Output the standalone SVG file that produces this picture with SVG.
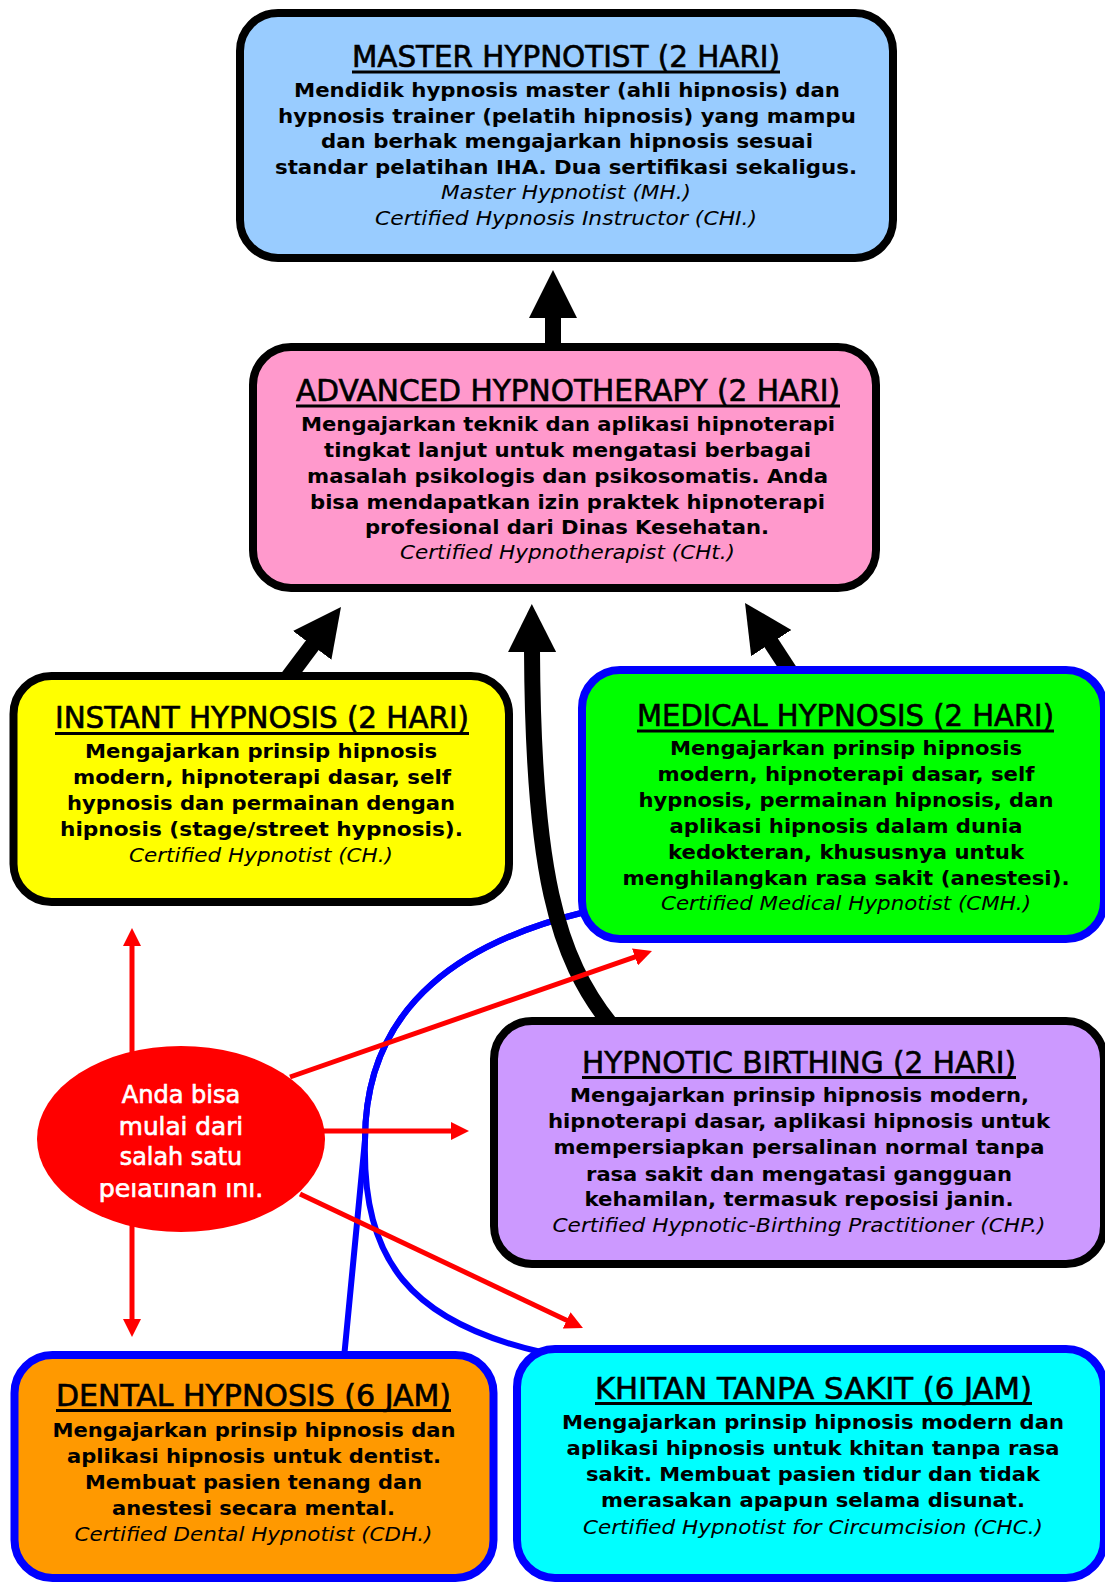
<svg xmlns="http://www.w3.org/2000/svg" width="1105" height="1583" viewBox="0 0 1105 1583">
<defs>
<style>
.box{stroke-width:8}
.bk{stroke:#000000}
.bl{stroke:#0000FF}
.t{font-family:"DejaVu Sans Condensed","DejaVu Sans",sans-serif;font-size:31px;fill:#000;stroke:#000;stroke-width:0.6px;text-anchor:middle}
.b{font-family:"DejaVu Sans","Liberation Sans",sans-serif;font-size:19px;font-weight:bold;fill:#000;text-anchor:middle}
.i{font-family:"DejaVu Sans","Liberation Sans",sans-serif;font-size:20px;font-style:italic;fill:#000;text-anchor:middle}
.u{stroke:#000;stroke-width:3}
.w{font-family:"DejaVu Sans Condensed","DejaVu Sans",sans-serif;font-size:24px;fill:#FFFFFF;stroke:#FFFFFF;stroke-width:0.6px;text-anchor:middle}
.blk{fill:none;stroke:#000;stroke-width:16}
.red{fill:none;stroke:#FF0000;stroke-width:5}
.blue{fill:none;stroke:#0000FF;stroke-width:6}
</style>
<marker id="hb" markerUnits="userSpaceOnUse" markerWidth="48" markerHeight="48" refX="2" refY="24" orient="auto" viewBox="0 0 48 48"><path d="M0,0 L48,24 L0,48 Z" fill="#000"/></marker>
<marker id="hr" markerUnits="userSpaceOnUse" markerWidth="18" markerHeight="18" refX="1" refY="9" orient="auto" viewBox="0 0 18 18"><path d="M0,0 L18,9 L0,18 Z" fill="#FF0000"/></marker>
<clipPath id="cl"><rect x="0" y="1183" width="400" height="60"/></clipPath>
</defs>
<rect x="0" y="0" width="1105" height="1583" fill="#FFFFFF"/>

<g id="connectors">
<path class="blue" d="M 585 912 C 470 940 365 1000 365 1140 C 362 1260 410 1322 541 1352"/>
<path class="blue" d="M 585 912 C 470 940 365 1000 365 1140 L 344 1358"/>
<line class="blk" x1="553" y1="352" x2="553" y2="316" marker-end="url(#hb)"/>
<line class="blk" x1="288.2" y1="677.4" x2="313.4" y2="643.8" marker-end="url(#hb)"/>
<line class="blk" x1="793.2" y1="676.6" x2="770.2" y2="641.4" marker-end="url(#hb)"/>
<path class="blk" d="M 612 1026 C 556 957 533 870 532 650" marker-end="url(#hb)"/>
<line class="red" x1="132" y1="1060" x2="132" y2="945" marker-end="url(#hr)"/>
<line class="red" x1="132" y1="1220" x2="132" y2="1320" marker-end="url(#hr)"/>
<line class="red" x1="290" y1="1077" x2="635.9" y2="956.6" marker-end="url(#hr)"/>
<line class="red" x1="320" y1="1131" x2="452" y2="1131" marker-end="url(#hr)"/>
<line class="red" x1="300" y1="1194" x2="567.6" y2="1320.7" marker-end="url(#hr)"/>
</g>

<g id="master">
<rect class="box bk" x="240" y="13" width="653" height="245" rx="38" fill="#99CCFF"/>
<text class="t" x="566" y="67" textLength="428" lengthAdjust="spacingAndGlyphs">MASTER HYPNOTIST (2 HARI)</text>
<line class="u" x1="352" y1="72" x2="780" y2="72"/>
<text class="b" x="567" y="97" textLength="546" lengthAdjust="spacingAndGlyphs">Mendidik hypnosis master (ahli hipnosis) dan</text>
<text class="b" x="567" y="122.5" textLength="578" lengthAdjust="spacingAndGlyphs">hypnosis trainer (pelatih hipnosis) yang mampu</text>
<text class="b" x="567" y="148" textLength="492" lengthAdjust="spacingAndGlyphs">dan berhak mengajarkan hipnosis sesuai</text>
<text class="b" x="566" y="173.5" textLength="582" lengthAdjust="spacingAndGlyphs">standar pelatihan IHA. Dua sertifikasi sekaligus.</text>
<text class="i" x="566" y="199" textLength="250" lengthAdjust="spacingAndGlyphs">Master Hypnotist (MH.)</text>
<text class="i" x="566" y="224.5" textLength="382" lengthAdjust="spacingAndGlyphs">Certified Hypnosis Instructor (CHI.)</text>
</g>

<g id="advanced">
<rect class="box bk" x="253" y="347" width="623" height="241" rx="38" fill="#FF99CC"/>
<text class="t" x="568" y="401" textLength="544" lengthAdjust="spacingAndGlyphs">ADVANCED HYPNOTHERAPY (2 HARI)</text>
<line class="u" x1="296" y1="406" x2="840" y2="406"/>
<text class="b" x="568" y="431" textLength="534" lengthAdjust="spacingAndGlyphs">Mengajarkan teknik dan aplikasi hipnoterapi</text>
<text class="b" x="567.5" y="456.5" textLength="487" lengthAdjust="spacingAndGlyphs">tingkat lanjut untuk mengatasi berbagai</text>
<text class="b" x="567.5" y="482.5" textLength="521" lengthAdjust="spacingAndGlyphs">masalah psikologis dan psikosomatis. Anda</text>
<text class="b" x="567.5" y="508.5" textLength="515" lengthAdjust="spacingAndGlyphs">bisa mendapatkan izin praktek hipnoterapi</text>
<text class="b" x="567" y="534" textLength="404" lengthAdjust="spacingAndGlyphs">profesional dari Dinas Kesehatan.</text>
<text class="i" x="567.5" y="559" textLength="335" lengthAdjust="spacingAndGlyphs">Certified Hypnotherapist (CHt.)</text>
</g>

<g id="instant">
<rect class="box bk" x="13.5" y="676" width="495.5" height="226" rx="38" fill="#FFFF00"/>
<text class="t" x="262" y="728" textLength="414" lengthAdjust="spacingAndGlyphs">INSTANT HYPNOSIS (2 HARI)</text>
<line class="u" x1="55" y1="733.5" x2="469" y2="733.5"/>
<text class="b" x="261" y="757.5" textLength="352" lengthAdjust="spacingAndGlyphs">Mengajarkan prinsip hipnosis</text>
<text class="b" x="262" y="783.5" textLength="378" lengthAdjust="spacingAndGlyphs">modern, hipnoterapi dasar, self</text>
<text class="b" x="261" y="809.5" textLength="388" lengthAdjust="spacingAndGlyphs">hypnosis dan permainan dengan</text>
<text class="b" x="261.5" y="835.5" textLength="403" lengthAdjust="spacingAndGlyphs">hipnosis (stage/street hypnosis).</text>
<text class="i" x="261" y="861.5" textLength="264" lengthAdjust="spacingAndGlyphs">Certified Hypnotist (CH.)</text>
</g>

<g id="medical">
<rect class="box bl" x="582" y="670" width="522" height="269" rx="38" fill="#00FF00"/>
<text class="t" x="845.5" y="726" textLength="417" lengthAdjust="spacingAndGlyphs">MEDICAL HYPNOSIS (2 HARI)</text>
<line class="u" x1="637" y1="731" x2="1054" y2="731"/>
<text class="b" x="846" y="755" textLength="352" lengthAdjust="spacingAndGlyphs">Mengajarkan prinsip hipnosis</text>
<text class="b" x="846" y="781" textLength="377" lengthAdjust="spacingAndGlyphs">modern, hipnoterapi dasar, self</text>
<text class="b" x="846" y="807" textLength="415" lengthAdjust="spacingAndGlyphs">hypnosis, permainan hipnosis, dan</text>
<text class="b" x="846" y="833" textLength="353" lengthAdjust="spacingAndGlyphs">aplikasi hipnosis dalam dunia</text>
<text class="b" x="846" y="859" textLength="356" lengthAdjust="spacingAndGlyphs">kedokteran, khususnya untuk</text>
<text class="b" x="846" y="884.5" textLength="447" lengthAdjust="spacingAndGlyphs">menghilangkan rasa sakit (anestesi).</text>
<text class="i" x="846" y="910" textLength="370" lengthAdjust="spacingAndGlyphs">Certified Medical Hypnotist (CMH.)</text>
</g>

<g id="birthing">
<rect class="box bk" x="494" y="1021" width="610" height="243" rx="38" fill="#CC99FF"/>
<text class="t" x="799" y="1072.5" textLength="434" lengthAdjust="spacingAndGlyphs">HYPNOTIC BIRTHING (2 HARI)</text>
<line class="u" x1="582" y1="1077.5" x2="1016" y2="1077.5"/>
<text class="b" x="799.5" y="1102" textLength="459" lengthAdjust="spacingAndGlyphs">Mengajarkan prinsip hipnosis modern,</text>
<text class="b" x="799" y="1128" textLength="502" lengthAdjust="spacingAndGlyphs">hipnoterapi dasar, aplikasi hipnosis untuk</text>
<text class="b" x="799" y="1154" textLength="491" lengthAdjust="spacingAndGlyphs">mempersiapkan persalinan normal tanpa</text>
<text class="b" x="799" y="1181" textLength="426" lengthAdjust="spacingAndGlyphs">rasa sakit dan mengatasi gangguan</text>
<text class="b" x="799" y="1206" textLength="429" lengthAdjust="spacingAndGlyphs">kehamilan, termasuk reposisi janin.</text>
<text class="i" x="799" y="1232" textLength="493" lengthAdjust="spacingAndGlyphs">Certified Hypnotic-Birthing Practitioner (CHP.)</text>
</g>

<g id="dental">
<rect class="box bl" x="14.5" y="1355" width="479" height="223" rx="38" fill="#FF9900"/>
<text class="t" x="253.5" y="1405.5" textLength="395" lengthAdjust="spacingAndGlyphs">DENTAL HYPNOSIS (6 JAM)</text>
<line class="u" x1="56" y1="1410.5" x2="451" y2="1410.5"/>
<text class="b" x="254" y="1437" textLength="403" lengthAdjust="spacingAndGlyphs">Mengajarkan prinsip hipnosis dan</text>
<text class="b" x="254" y="1463" textLength="374" lengthAdjust="spacingAndGlyphs">aplikasi hipnosis untuk dentist.</text>
<text class="b" x="253.5" y="1489" textLength="337" lengthAdjust="spacingAndGlyphs">Membuat pasien tenang dan</text>
<text class="b" x="253.5" y="1515" textLength="283" lengthAdjust="spacingAndGlyphs">anestesi secara mental.</text>
<text class="i" x="253.5" y="1541" textLength="358" lengthAdjust="spacingAndGlyphs">Certified Dental Hypnotist (CDH.)</text>
</g>

<g id="khitan">
<rect class="box bl" x="517" y="1349" width="587" height="229" rx="38" fill="#00FFFF"/>
<text class="t" x="813.5" y="1398.5" textLength="437" lengthAdjust="spacingAndGlyphs">KHITAN TANPA SAKIT (6 JAM)</text>
<line class="u" x1="595" y1="1403.5" x2="1032" y2="1403.5"/>
<text class="b" x="813" y="1429" textLength="502" lengthAdjust="spacingAndGlyphs">Mengajarkan prinsip hipnosis modern dan</text>
<text class="b" x="813" y="1455" textLength="493" lengthAdjust="spacingAndGlyphs">aplikasi hipnosis untuk khitan tanpa rasa</text>
<text class="b" x="813" y="1481" textLength="454" lengthAdjust="spacingAndGlyphs">sakit. Membuat pasien tidur dan tidak</text>
<text class="b" x="813" y="1507" textLength="424" lengthAdjust="spacingAndGlyphs">merasakan apapun selama disunat.</text>
<text class="i" x="813" y="1533.5" textLength="460" lengthAdjust="spacingAndGlyphs">Certified Hypnotist for Circumcision (CHC.)</text>
</g>

<g id="start">
<ellipse cx="181" cy="1139" rx="144" ry="93" fill="#FF0000"/>
<text class="w" x="181" y="1103" textLength="118.6" lengthAdjust="spacingAndGlyphs">Anda bisa</text>
<text class="w" x="181" y="1134.6" textLength="124.4" lengthAdjust="spacingAndGlyphs">mulai dari</text>
<text class="w" x="181" y="1165.4" textLength="122.4" lengthAdjust="spacingAndGlyphs">salah satu</text>
<text class="w" x="181" y="1197" textLength="164.6" lengthAdjust="spacingAndGlyphs" clip-path="url(#cl)">pelatihan ini.</text>
</g>
</svg>
